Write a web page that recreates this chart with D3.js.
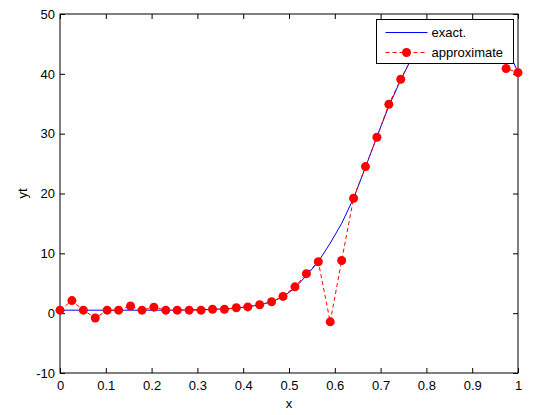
<html lang="en">
  <head>
    <meta charset="UTF-8" />
    <title>exact vs approximate</title>
    <script src="https://d3js.org/d3.v7.min.js"></script>
    <style>
      body {
        margin: 0;
        padding: 0;
        background: #ffffff;
      }
      svg {
        display: block;
        font-family: "Liberation Sans", Arial, sans-serif;
      }
      .tick text {
        font-size: 13px;
        fill: #000;
      }
    </style>
  </head>
  <body>
    <script>
      const w = 535;
      const h = 415;
      const margin = { top: 14, right: 17, bottom: 42, left: 60 };

      // sample points (linspace 0..1, 40 points)
      const xValues = [
        0, 0.026, 0.051, 0.077, 0.103, 0.128, 0.154, 0.179, 0.205, 0.231,
        0.256, 0.282, 0.308, 0.333, 0.359, 0.385, 0.41, 0.436, 0.462, 0.487,
        0.513, 0.538, 0.564, 0.59, 0.615, 0.641, 0.667, 0.692, 0.718, 0.744,
        0.769, 0.795, 0.821, 0.846, 0.872, 0.897, 0.923, 0.949, 0.974, 1,
      ];
      const exactValues = [
        0.5, 0.5, 0.5, 0.5, 0.5, 0.5, 0.5, 0.5, 0.5, 0.5,
        0.52, 0.55, 0.58, 0.65, 0.72, 0.85, 1.05, 1.4, 1.9, 2.75,
        4.2, 6.3, 8.6, 11.7, 15.0, 19.2, 24.4, 29.5, 34.6, 39.0,
        42.8, 45.4, 47.1, 48.1, 48.5, 48.3, 47.6, 46.5, 44.8, 40.2,
      ];
      const approxValues = [
        0.5, 2.1, 0.5, -0.8, 0.5, 0.5, 1.2, 0.5, 1.0, 0.5,
        0.5, 0.5, 0.5, 0.65, 0.65, 0.9, 1.05, 1.4, 1.9, 2.8,
        4.4, 6.6, 8.6, -1.45, 8.8, 19.2, 24.5, 29.4, 34.9, 39.1,
        42.8, 45.3, 47.0, 48.0, 48.4, 48.2, 47.4, 45.8, 40.9, 40.2,
      ];
      const xTicks = [0, 0.1, 0.2, 0.3, 0.4, 0.5, 0.6, 0.7, 0.8, 0.9, 1];
      const yTicks = [-10, 0, 10, 20, 30, 40, 50];
      const legendLabels = ["exact.", "approximate"];

      const svg = d3
        .select("body")
        .append("svg")
        .attr("width", w)
        .attr("height", h);

      const xScale = d3
        .scaleLinear()
        .domain([0, 1])
        .range([margin.left, w - margin.right]);
      const yScale = d3
        .scaleLinear()
        .domain([-10, 50])
        .range([h - margin.bottom, margin.top]);

      const x0 = xScale.range()[0];
      const x1 = xScale.range()[1];
      const y0 = yScale.range()[0];
      const y1 = yScale.range()[1];

      // axes (MATLAB style: ticks inside, on all four sides)
      svg
        .append("g")
        .attr("transform", `translate(0, ${y0})`)
        .call(d3.axisBottom(xScale).tickValues(xTicks).tickSize(-5).tickPadding(8).tickFormat((d) => String(d)))
        .call((g) => g.select(".domain").remove());
      svg
        .append("g")
        .attr("transform", `translate(0, ${y1})`)
        .call(d3.axisTop(xScale).tickValues(xTicks).tickSize(-5).tickFormat(""))
        .call((g) => g.select(".domain").remove());
      svg
        .append("g")
        .attr("transform", `translate(${x0}, 0)`)
        .call(d3.axisLeft(yScale).tickValues(yTicks).tickSize(-5).tickPadding(5).tickFormat((d) => String(d)))
        .call((g) => g.select(".domain").remove());
      svg
        .append("g")
        .attr("transform", `translate(${x1}, 0)`)
        .call(d3.axisRight(yScale).tickValues(yTicks).tickSize(-5).tickFormat(""))
        .call((g) => g.select(".domain").remove());

      svg
        .selectAll(".tick text")
        .attr("font-family", "Liberation Sans, Arial, sans-serif");

      svg
        .append("rect")
        .attr("x", x0)
        .attr("y", y1)
        .attr("width", x1 - x0)
        .attr("height", y0 - y1)
        .attr("fill", "none")
        .attr("stroke", "#000")
        .attr("stroke-width", 1);

      // axis labels
      svg
        .append("text")
        .attr("x", (x0 + x1) / 2)
        .attr("y", 408)
        .attr("text-anchor", "middle")
        .attr("font-size", 13)
        .text("x");
      svg
        .append("text")
        .attr("transform", `translate(27, ${(y0 + y1) / 2}) rotate(-90)`)
        .attr("text-anchor", "middle")
        .attr("font-size", 13)
        .text("yt");

      const line = d3
        .line()
        .x((d) => xScale(d[0]))
        .y((d) => yScale(d[1]));

      const exact = xValues.map((x, i) => [x, exactValues[i]]);
      const approx = xValues.map((x, i) => [x, approxValues[i]]);

      svg
        .append("path")
        .datum(exact)
        .attr("d", line)
        .attr("fill", "none")
        .attr("stroke", "#0000ff")
        .attr("stroke-width", 1);

      svg
        .append("path")
        .datum(approx)
        .attr("d", line)
        .attr("fill", "none")
        .attr("stroke", "#ff0000")
        .attr("stroke-width", 1)
        .attr("stroke-dasharray", "4,3");

      svg
        .append("g")
        .selectAll("circle")
        .data(approx)
        .enter()
        .append("circle")
        .attr("cx", (d) => xScale(d[0]))
        .attr("cy", (d) => yScale(d[1]))
        .attr("r", 4.5)
        .attr("fill", "#ff0000");

      // legend
      const legend = svg.append("g").attr("transform", "translate(376.5, 19.5)");
      legend
        .append("rect")
        .attr("width", 137)
        .attr("height", 44)
        .attr("fill", "#fff")
        .attr("stroke", "#000")
        .attr("stroke-width", 1);
      legend
        .append("line")
        .attr("x1", 9)
        .attr("x2", 51)
        .attr("y1", 13)
        .attr("y2", 13)
        .attr("stroke", "#0000ff");
      legend
        .append("line")
        .attr("x1", 9)
        .attr("x2", 51)
        .attr("y1", 33)
        .attr("y2", 33)
        .attr("stroke", "#ff0000")
        .attr("stroke-dasharray", "4,3");
      legend
        .append("circle")
        .attr("cx", 30)
        .attr("cy", 33)
        .attr("r", 4.5)
        .attr("fill", "#ff0000");
      legend
        .selectAll("text.lbl")
        .data(legendLabels)
        .enter()
        .append("text")
        .attr("class", "lbl")
        .attr("x", 55)
        .attr("y", (d, i) => 13 + i * 20)
        .attr("dy", "0.35em")
        .attr("font-size", 13)
        .text((d) => d);
    </script>
  </body>
</html>
